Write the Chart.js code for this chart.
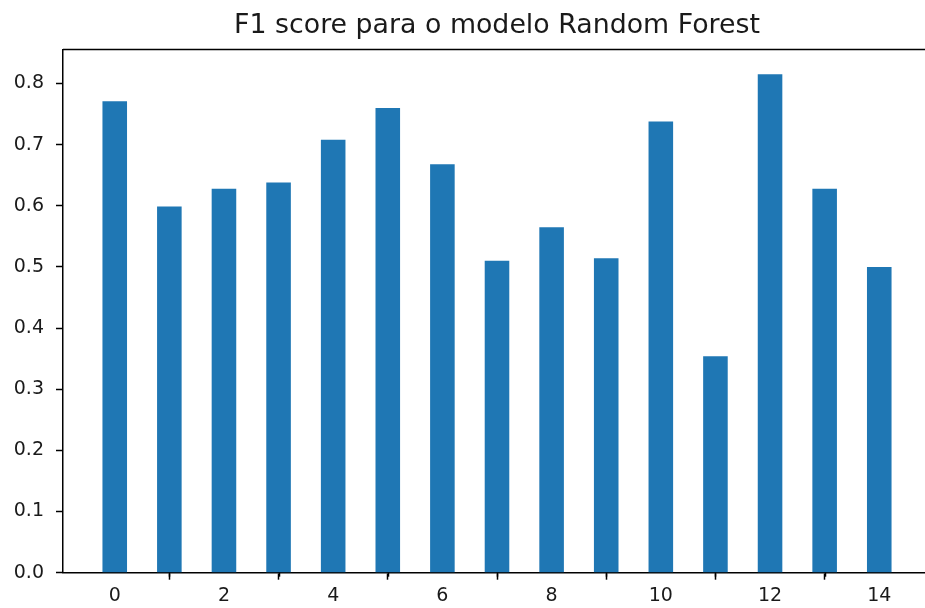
<!DOCTYPE html>
<html>
<head>
<meta charset="utf-8">
<script src="https://cdn.jsdelivr.net/npm/chart.js@4/dist/chart.umd.min.js"></script>
<style>
  html, body { margin: 0; padding: 0; background: #fff; overflow: hidden; }
  #wrap { width: 940px; height: 608px; }
</style>
</head>
<body>
<div id="wrap"><canvas id="c" width="940" height="608"></canvas></div>
<script>
const categories = [0, 1, 2, 3, 4, 5, 6, 7, 8, 9, 10, 11, 12, 13, 14];
const f1Scores = [0.771, 0.599, 0.628, 0.638, 0.708, 0.760, 0.668, 0.510, 0.565, 0.514, 0.738, 0.354, 0.815, 0.628, 0.500];
const yTickValues = [0.0, 0.1, 0.2, 0.3, 0.4, 0.5, 0.6, 0.7, 0.8];
const xMajorTicks = [0, 2, 4, 6, 8, 10, 12, 14];
const xMinorTicks = [1, 3, 5, 7, 9, 11, 13];
const titleText = 'F1 score para o modelo Random Forest';

const TEXT = '#1a1a1a';
const FONT = 'DejaVu Sans';

const extrasPlugin = {
  id: 'extras',
  afterDatasetsDraw(chart) {
    const sx = chart.scales.x;
    const a = chart.chartArea;
    const ctx = chart.ctx;
    ctx.save();
    ctx.strokeStyle = '#000';
    ctx.lineWidth = 1.5;
    xMinorTicks.forEach(v => {
      const px = Math.round(sx.getPixelForValue(v)) + 0.5;
      ctx.beginPath();
      ctx.moveTo(px, sx.top);
      ctx.lineTo(px, sx.top + 4);
      ctx.stroke();
    });
    ctx.beginPath();
    ctx.moveTo(a.left, a.top);
    ctx.lineTo(a.right, a.top);
    ctx.stroke();
    ctx.restore();
  }
};

new Chart(document.getElementById('c'), {
  type: 'bar',
  data: {
    datasets: [{
      data: categories.map((c, i) => ({ x: c, y: f1Scores[i] })),
      backgroundColor: '#1f77b4',
      borderWidth: 0,
      barPercentage: 0.45,
      categoryPercentage: 1.0,
      grouped: false
    }]
  },
  options: {
    responsive: false,
    animation: false,
    devicePixelRatio: 1,
    layout: { padding: { left: 0, right: 9, top: 0, bottom: 0 } },
    plugins: {
      legend: { display: false },
      tooltip: { enabled: false },
      title: {
        display: true,
        text: titleText,
        fullSize: false,
        color: TEXT,
        font: { family: FONT, size: 26.8, weight: 'normal' },
        padding: { top: 9.5, bottom: 7.8 }
      }
    },
    scales: {
      x: {
        type: 'linear',
        min: -0.9475,
        max: 14.9475,
        offset: false,
        afterBuildTicks: s => { s.ticks = xMajorTicks.map(v => ({ value: v })); },
        afterFit: s => { s.height = 35.3; },
        grid: { display: true, drawOnChartArea: false, drawTicks: true, tickLength: 7, tickWidth: 1.5, tickColor: '#000' },
        border: { display: true, color: '#000', width: 1.5 },
        ticks: {
          color: TEXT, font: { family: FONT, size: 19 }, padding: 5, maxRotation: 0,
          callback: v => String(v)
        }
      },
      y: {
        type: 'linear',
        min: 0,
        max: 0.8556,
        afterBuildTicks: s => { s.ticks = yTickValues.map(v => ({ value: v })); },
        afterFit: s => { s.width = 63; },
        grid: { display: true, drawOnChartArea: false, drawTicks: true, tickLength: 7, tickWidth: 1.5, tickColor: '#000' },
        border: { display: true, color: '#000', width: 1.5 },
        ticks: {
          color: TEXT, font: { family: FONT, size: 19 }, padding: 12,
          callback: v => Number(v).toFixed(1)
        }
      }
    }
  },
  plugins: [extrasPlugin]
});
</script>
</body>
</html>
